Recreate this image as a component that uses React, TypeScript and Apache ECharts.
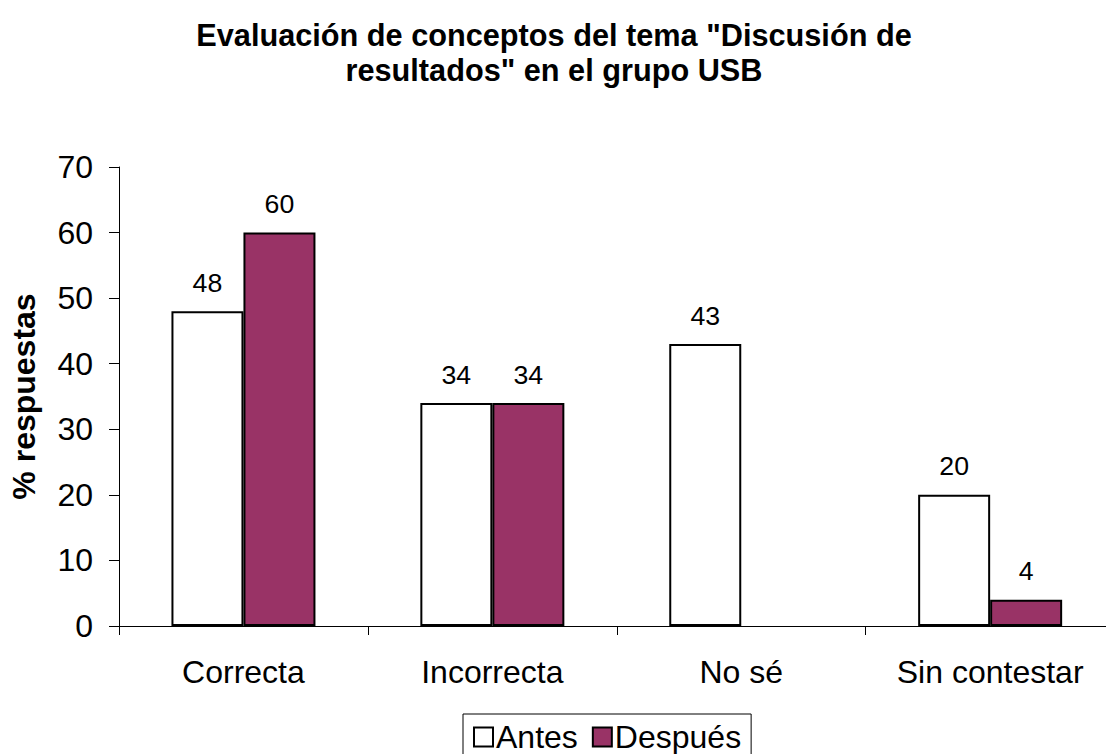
import React, { useEffect, useRef } from "react";
import * as echarts from "echarts";

const categories = ["Correcta", "Incorrecta", "No sé", "Sin contestar"];
const antes = [48, 34, 43, 20];
const despues = [60, 34, null, 4];
const yTicks = [0, 10, 20, 30, 40, 50, 60, 70];

export default function App() {
  const ref = useRef<HTMLDivElement>(null);
  useEffect(() => {
    const chart = echarts.init(ref.current!, null, { renderer: "svg" });
    const font = "Arial, 'Liberation Sans', sans-serif";
    chart.setOption({
      animation: false,
      backgroundColor: "#ffffff",
      title: {
        text: 'Evaluación de conceptos del tema "Discusión de\nresultados" en el grupo USB',
        left: 549,
        textAlign: "center",
        top: 13,
        textStyle: { fontFamily: font, fontSize: 30.7, fontWeight: "bold", color: "#000", lineHeight: 35 },
      },
      legend: {
        top: 714,
        left: 463,
        data: ["Antes", "Después"],
        icon: "rect",
        itemWidth: 19,
        itemHeight: 19,
        itemGap: 14,
        padding: [7, 10, 12, 10],
        borderColor: "#000",
        borderWidth: 1,
        textStyle: { fontFamily: font, fontSize: 32, color: "#000", padding: [0, 0, 0, -2] },
      },
      grid: { left: 119, top: 167, width: 995.6, height: 459, containLabel: false },
      xAxis: {
        type: "category",
        data: categories,
        axisLine: { lineStyle: { color: "#000", width: 1 } },
        axisTick: { show: true, length: 9, lineStyle: { color: "#000" } },
        axisLabel: { fontFamily: font, fontSize: 32, color: "#000", margin: 30 },
      },
      yAxis: {
        type: "value",
        min: yTicks[0],
        max: yTicks[yTicks.length - 1],
        interval: 10,
        name: "% respuestas",
        nameLocation: "middle",
        nameGap: 79,
        nameTextStyle: { fontFamily: font, fontSize: 32, fontWeight: "bold", color: "#000" },
        splitLine: { show: false },
        axisLine: { show: true, lineStyle: { color: "#000", width: 1 } },
        axisTick: { show: true, length: 10, lineStyle: { color: "#000" } },
        axisLabel: { fontFamily: font, fontSize: 32, color: "#000", margin: 26 },
      },
      series: [
        {
          name: "Antes",
          type: "bar",
          data: antes,
          barWidth: 72,
          barGap: "0%",
          itemStyle: { color: "#ffffff", borderColor: "#000", borderWidth: 2 },
          label: { show: true, position: "top", distance: 15, fontFamily: font, fontSize: 26.7, color: "#000" },
        },
        {
          name: "Después",
          type: "bar",
          data: despues,
          barWidth: 72,
          itemStyle: { color: "#993366", borderColor: "#000", borderWidth: 2 },
          label: { show: true, position: "top", distance: 15, fontFamily: font, fontSize: 26.7, color: "#000" },
        },
      ],
    });
    return () => chart.dispose();
  }, []);
  return (
    <div style={{ position: "absolute", left: 0, top: 0, width: 1106, height: 754, overflow: "hidden", background: "#fff" }}>
      <div ref={ref} style={{ width: 1120, height: 754 }} />
    </div>
  );
}
